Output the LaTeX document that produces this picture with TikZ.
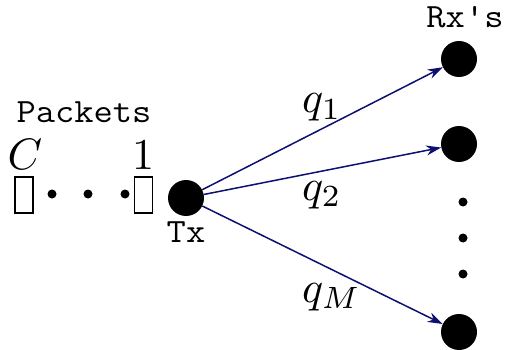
\documentclass[tikz,border=0pt]{standalone}
\usepackage{graphicx}
\usepackage{fontspec}
\usetikzlibrary{arrows.meta}
\definecolor{linkblue}{RGB}{12,16,110}
\newcommand{\bigmath}[1]{\scalebox{4.4}{$#1$}}
\newcommand{\bigtt}[1]{\scalebox{1.1}[1]{\fontsize{34}{34}\selectfont\ttfamily #1}}
\begin{document}
\begin{tikzpicture}[x=1pt,y=-1pt,
  bigdot/.style={circle,fill=black,inner sep=0pt,minimum size=36pt},
  smalldot/.style={circle,fill=black,inner sep=0pt,minimum size=9pt},
  packet/.style={draw=black,line width=1.1pt,inner sep=0pt,minimum width=18pt,minimum height=36pt},
  ttlabel/.style={inner sep=0pt,anchor=base},
  mlabel/.style={inner sep=0pt,anchor=base},
  link/.style={draw=linkblue,line width=1.5pt,-{Stealth[length=15pt,width=10pt]}}]
\useasboundingbox (0,0) rectangle (506,350);
% transmitter and receivers
\node[bigdot] (tx) at (186,198) {};
\node[bigdot] (rx1) at (459,59) {};
\node[bigdot] (rx2) at (459,144) {};
\node[bigdot] (rxm) at (459,332) {};
\node[smalldot] (d1) at (463,202) {};
\node[smalldot] (d2) at (463,238) {};
\node[smalldot] (d3) at (463,274) {};
% packets
\node[packet] (pc) at (24,195) {};
\node[packet] (p1) at (143.5,195) {};
\node[smalldot] (pd1) at (52,194) {};
\node[smalldot] (pd2) at (88,194) {};
\node[smalldot] (pd3) at (125,194) {};
% text
\node[ttlabel] (packets) at (84,123) {\bigtt{Packets}};
\node[ttlabel] (txl) at (186,242) {\bigtt{Tx}};
\node[ttlabel] (rxl) at (465,28) {\bigtt{Rx's}};
\node[mlabel] (cl) at (25,170) {\bigmath{C}};
\node[mlabel] (onel) at (143,170) {\bigmath{1}};
% links
\draw[link] (tx) -- (rx1);
\draw[link] (tx) -- (rx2);
\draw[link] (tx) -- (rxm);
\node[mlabel,anchor=base west] (q1) at (302,113) {\bigmath{q_1}};
\node[mlabel,anchor=base west] (q2) at (302,200) {\bigmath{q_2}};
\node[mlabel,anchor=base west] (qm) at (302,302) {\bigmath{q_M}};
\end{tikzpicture}
\end{document}
